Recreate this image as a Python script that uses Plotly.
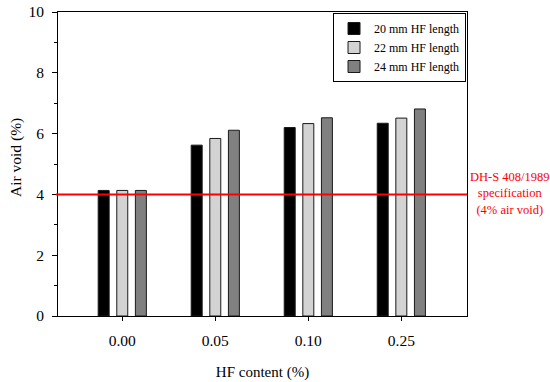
import plotly.graph_objects as go

categories = ["0.00", "0.05", "0.10", "0.25"]
hf20 = [4.13, 5.62, 6.20, 6.34]
hf22 = [4.13, 5.84, 6.33, 6.51]
hf24 = [4.13, 6.11, 6.52, 6.81]
series_names = ["20 mm HF length", "22 mm HF length", "24 mm HF length"]
colors = ["#000000", "#d3d3d3", "#808080"]
spec_value = 4
y_ticks = [0, 2, 4, 6, 8, 10]
y_minor = [1, 3, 5, 7, 9]

font = "Liberation Serif"
xpos = list(range(len(categories)))

fig = go.Figure()
for name, vals, c in zip(series_names, [hf20, hf22, hf24], colors):
    fig.add_trace(go.Bar(x=xpos, y=vals, name=name,
                         marker=dict(color=c, line=dict(color="#1a1a1a", width=1))))

fig.add_shape(type="line", xref="paper", x0=-0.005, x1=1, yref="y", y0=spec_value, y1=spec_value,
              line=dict(color="#ff0000", width=2))
fig.add_annotation(xref="paper", x=1.0, xanchor="center", xshift=43, yref="y", y=spec_value,
                   yanchor="middle", yshift=1,
                   text="DH-S 408/1989<br>specification<br>(4% air void)",
                   showarrow=False, align="center",
                   font=dict(family=font, size=12.5, color="#ff0000"))
fig.add_annotation(xref="paper", x=0, xanchor="center", xshift=-42, yref="paper", y=0.5,
                   yanchor="middle", yshift=6, textangle=-90, text="Air void (%)",
                   showarrow=False, font=dict(family=font, size=15.5, color="black"))

fig.update_layout(
    width=550, height=382,
    margin=dict(l=58, r=83, t=12, b=66, autoexpand=False),
    paper_bgcolor="white", plot_bgcolor="white",
    barmode="group", bargap=0.4, bargroupgap=0.41,
    font=dict(family=font, size=15, color="black"),
    showlegend=True,
    legend=dict(x=0.9976, y=0.9967, xanchor="right", yanchor="top",
                bordercolor="black", borderwidth=1, bgcolor="white",
                font=dict(family=font, size=12), tracegroupgap=0, itemwidth=30),
    xaxis=dict(range=[-0.691, 3.706], tickvals=xpos, ticktext=categories, automargin=True,
               showline=True, linecolor="black", linewidth=1, mirror=True,
               ticks="outside", ticklen=4, tickcolor="black", showgrid=False, zeroline=False,
               ticklabelstandoff=6,
               title=dict(text="HF content (%)", font=dict(family=font, size=15), standoff=18),
               tickfont=dict(family=font, size=15.5)),
    yaxis=dict(range=[0, 10], tickvals=y_ticks, automargin=True,
               showline=True, linecolor="black", linewidth=1, mirror=True,
               ticks="outside", ticklen=5, tickcolor="black", showgrid=False, zeroline=False,
               ticklabelstandoff=5,
               minor=dict(tickvals=y_minor, ticks="outside", ticklen=3, tickcolor="black", showgrid=False),
               tickfont=dict(family=font, size=15.5)),
)

fig.write_html("out.html", config={"displayModeBar": False},
               post_script="document.body.style.margin='0';document.body.style.padding='0';document.documentElement.style.overflow='hidden';")
